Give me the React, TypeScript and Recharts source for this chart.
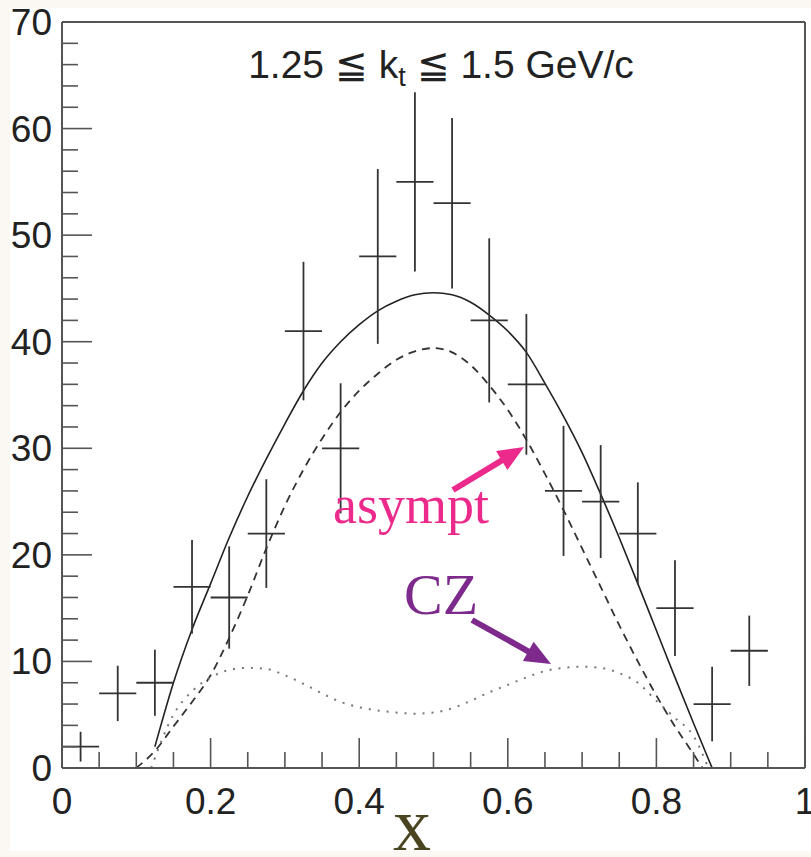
import { ComposedChart, Line, Scatter, ErrorBar, XAxis, YAxis, ReferenceLine } from 'recharts'

// measured histogram (bin centres, counts, statistical errors)
const binX = [0.025, 0.075, 0.125, 0.175, 0.225, 0.275, 0.325, 0.375, 0.425, 0.475, 0.525, 0.575, 0.625, 0.675, 0.725, 0.775, 0.825, 0.875, 0.925]
const counts = [2, 7, 8, 17, 16, 22, 41, 30, 48, 55, 53, 42, 36, 26, 25, 22, 15, 6, 11]
const countErr = [1.4, 2.6, 3.1, 4.4, 4.8, 5.1, 6.5, 6.1, 8.2, 8.4, 8, 7.7, 6.6, 6.1, 5.3, 4.8, 4.5, 3.5, 3.3]
const binHalfWidth = 0.025

// total (asympt + CZ)
const solidX = [0.125, 0.15, 0.175, 0.2, 0.225, 0.25, 0.275, 0.3, 0.325, 0.35, 0.375, 0.4, 0.425, 0.45, 0.475, 0.5, 0.525, 0.55, 0.575, 0.6, 0.625, 0.65, 0.675, 0.7, 0.725, 0.75, 0.775, 0.8, 0.825, 0.85, 0.875]
const solidY = [2, 8, 13, 17.3, 21.6, 25.5, 29, 32.3, 35.4, 38, 40, 41.6, 42.9, 43.8, 44.4, 44.6, 44.4, 43.7, 42.5, 41, 39, 36.1, 33, 29.6, 25.7, 21.6, 17.3, 12.9, 8.5, 4.2, 0]

// asymptotic
const dashedX = [0.1, 0.125, 0.15, 0.175, 0.2, 0.225, 0.25, 0.275, 0.3, 0.325, 0.35, 0.375, 0.4, 0.425, 0.45, 0.475, 0.5, 0.525, 0.55, 0.575, 0.6, 0.625, 0.65, 0.675, 0.7, 0.725, 0.75, 0.775, 0.8, 0.825, 0.85, 0.862]
const dashedY = [0, 1.6, 3.9, 6.2, 8.7, 12.2, 16.2, 20.6, 24.6, 28, 30.9, 33.4, 35.4, 37, 38.3, 39.1, 39.4, 39, 37.8, 35.9, 33.6, 30.8, 27.6, 24.2, 20.6, 17, 13.4, 10, 6.8, 3.9, 1.3, 0]

// CZ
const dottedX = [0.12, 0.15, 0.175, 0.2, 0.225, 0.25, 0.275, 0.3, 0.325, 0.35, 0.375, 0.4, 0.425, 0.45, 0.475, 0.5, 0.525, 0.55, 0.575, 0.6, 0.625, 0.65, 0.675, 0.7, 0.725, 0.75, 0.775, 0.8, 0.825, 0.85, 0.87]
const dottedY = [0, 5, 7.2, 8.5, 9.2, 9.4, 9.3, 8.7, 7.9, 7, 6.2, 5.7, 5.4, 5.2, 5.1, 5.2, 5.6, 6.3, 7.1, 7.8, 8.5, 9.1, 9.4, 9.5, 9.4, 8.9, 8, 6.3, 4.7, 3, 0]

const xTicks = [0, 0.05, 0.1, 0.15, 0.2, 0.25, 0.3, 0.35, 0.4, 0.45, 0.5, 0.55, 0.6, 0.65, 0.7, 0.75, 0.8, 0.85, 0.9, 0.95, 1]
const xMajor = [0, 0.2, 0.4, 0.6, 0.8, 1]
const xLabels = ['0', '0.2', '0.4', '0.6', '0.8', '1']
const yTicks = [0, 2, 4, 6, 8, 10, 12, 14, 16, 18, 20, 22, 24, 26, 28, 30, 32, 34, 36, 38, 40, 42, 44, 46, 48, 50, 52, 54, 56, 58, 60, 62, 64, 66, 68, 70]
const yMajor = [0, 10, 20, 30, 40, 50, 60, 70]

const points = binX.map((x, i) => ({ x, y: counts[i], ex: binHalfWidth, ey: countErr[i] }))
const toXY = (xs: number[], ys: number[]) => xs.map((x, i) => ({ x, y: ys[i] }))
const solid = toXY(solidX, solidY)
const dashed = toXY(dashedX, dashedY)
const dotted = toXY(dottedX, dottedY)

const AXIS = '#555'
const FONT = '"Liberation Sans", Arial, sans-serif'
const SERIF = '"Liberation Serif", serif'

function XTick(props: any) {
  const { x, y, payload } = props
  const idx = xMajor.findIndex((m) => Math.abs(m - payload.value) < 1e-6)
  const major = idx >= 0
  return (
    <g>
      <line x1={x} x2={x} y1={y} y2={y - (major ? 30 : 16)} stroke={AXIS} strokeWidth={1.6} />
      {major && (
        <text x={x} y={y + 46} textAnchor="middle" fontSize={37} fontFamily={FONT} fill="#222">
          {xLabels[idx]}
        </text>
      )}
    </g>
  )
}

function YTick(props: any) {
  const { x, y, payload } = props
  const major = yMajor.includes(payload.value)
  return (
    <g>
      <line x1={x} x2={x + (major ? 30 : 16)} y1={y} y2={y} stroke={AXIS} strokeWidth={1.6} />
      {major && (
        <text x={x - 10} y={y + 13} textAnchor="end" fontSize={37} fontFamily={FONT} fill="#222">
          {payload.value}
        </text>
      )}
    </g>
  )
}

function Arrow({ x1, y1, x2, y2, color }: { x1: number; y1: number; x2: number; y2: number; color: string }) {
  const len = Math.hypot(x2 - x1, y2 - y1)
  const dx = (x2 - x1) / len
  const dy = (y2 - y1) / len
  const L = 26
  const W = 11
  const bx = x2 - dx * L
  const by = y2 - dy * L
  return (
    <g>
      <line x1={x1} y1={y1} x2={bx + dx * 4} y2={by + dy * 4} stroke={color} strokeWidth={6} />
      <polygon points={`${x2},${y2} ${bx - dy * W},${by + dx * W} ${bx + dy * W},${by - dx * W}`} fill={color} />
    </g>
  )
}

export default function App() {
  return (
    <div style={{ position: 'relative', width: 811, height: 857, background: '#fbf7f3' }}>
      <style>{'body{margin:0}'}</style>
      <div style={{ position: 'absolute', left: 10, top: 8, width: 801, height: 843, background: '#fff' }} />
      <div style={{ position: 'absolute', left: 0, top: 0 }}>
        <ComposedChart width={811} height={857} margin={{ top: 22, right: 6, left: 0, bottom: 0 }}>
          <XAxis
            dataKey="x"
            type="number"
            domain={[0, 1]}
            ticks={xTicks}
            interval={0}
            tickSize={0}
            tickMargin={0}
            tick={<XTick />}
            axisLine={{ stroke: AXIS, strokeWidth: 2 }}
            height={89}
            allowDataOverflow
          />
          <YAxis
            dataKey="y"
            type="number"
            domain={[0, 70]}
            ticks={yTicks}
            interval={0}
            tickSize={0}
            tickMargin={0}
            tick={<YTick />}
            axisLine={{ stroke: AXIS, strokeWidth: 2 }}
            width={62}
            allowDataOverflow
          />
          <ReferenceLine y={70} stroke={AXIS} strokeWidth={2} ifOverflow="visible" />
          <ReferenceLine x={1} stroke={AXIS} strokeWidth={2} ifOverflow="visible" />
          <Line data={solid} dataKey="y" type="monotone" stroke="#222" strokeWidth={1.6} dot={false} isAnimationActive={false} />
          <Line data={dashed} dataKey="y" type="monotone" stroke="#333" strokeWidth={1.8} strokeDasharray="8 6" dot={false} isAnimationActive={false} />
          <Line data={dotted} dataKey="y" type="monotone" stroke="#777" strokeWidth={2} strokeDasharray="2 7" dot={false} isAnimationActive={false} />
          <Scatter data={points} dataKey="y" shape={() => <g />} isAnimationActive={false}>
            <ErrorBar dataKey="ey" direction="y" width={0} stroke="#333" strokeWidth={1.8} />
            <ErrorBar dataKey="ex" direction="x" width={0} stroke="#333" strokeWidth={1.8} />
          </Scatter>
        </ComposedChart>
      </div>
      <svg width={811} height={857} style={{ position: 'absolute', left: 0, top: 0, pointerEvents: 'none' }}>
        <text x={441} y={78} textAnchor="middle" fontSize={39} fontFamily={FONT} fill="#222">
          1.25 ≦ k<tspan fontSize={27} dy={8}>t</tspan>
          <tspan dy={-8}> ≦ 1.5 GeV/c</tspan>
        </text>
        <text x={333} y={523} fontSize={54} fontFamily={SERIF} fill="#ec2a8c">asympt</text>
        <Arrow x1={453} y1={490} x2={524} y2={447} color="#ec2a8c" />
        <text x={404} y={614} fontSize={58} fontFamily={SERIF} fill="#7d2a8c">CZ</text>
        <Arrow x1={472} y1={620} x2={551} y2={664} color="#7d2a8c" />
        <text x={412} y={850} textAnchor="middle" fontSize={76} fontFamily={SERIF} fill="#4a4520">x</text>
      </svg>
    </div>
  )
}
